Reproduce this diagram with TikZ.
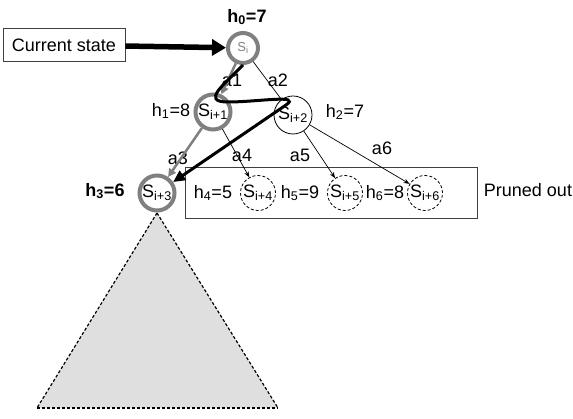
\documentclass[tikz,border=0pt]{standalone}
\usepackage{fontspec}
\setmainfont{Liberation Sans}
\usetikzlibrary{arrows.meta,positioning,backgrounds}

\begin{document}
\begin{tikzpicture}[x=1pt,y=-1pt,font=\fontsize{18}{21}\selectfont,
    kept/.style={circle,draw=gray,line width=4pt,minimum size=35pt,inner sep=0pt},
    thinstate/.style={circle,draw,line width=0.8pt,minimum size=38pt,inner sep=0pt},
    prunestate/.style={circle,draw,line width=0.8pt,dash pattern=on 3pt off 2pt,minimum size=35pt,inner sep=0pt},
    hbold/.style={font=\fontsize{18}{21}\selectfont\bfseries},
    greyarrow/.style={draw=gray,line width=2.5pt,-{Triangle[length=8pt,width=8pt]}},
    thinarrow/.style={draw,line width=0.7pt,-{Stealth[length=6pt,width=4.5pt]}},
    subtree/.style={line width=1.2pt,dash pattern=on 3pt off 2pt}]
        \useasboundingbox (0,0) rectangle (573,419);

        % Subtree below
        \coordinate (apex) at (157,213);
        \coordinate (baseL) at (37,408);
        \coordinate (baseR) at (278,408);
        \fill[gray!25] (apex) -- (baseL) -- (baseR) -- cycle;
        \draw[subtree] (apex) -- (baseL);
        \draw[subtree] (apex) -- (baseR);
        \draw[subtree] (baseL) -- (baseR);

        % Current state
        \node[draw=black!75,line width=0.8pt,minimum width=122,minimum height=33] (cur) at (64,45) {Current state};

        % States kept
        \node[kept,minimum size=30pt,text=gray,font=\fontsize{13}{15}\selectfont] (si) at (243,48) {S\textsubscript{i}};
        \node[kept] (si1) at (213,112) {S\textsubscript{i+1}};
        \node[thinstate] (si2) at (293,115) {S\textsubscript{i+2}};
        \node[kept,fill=white] (si3) at (157,193) {S\textsubscript{i+3}};

        % Pruned states
        \node[draw=black!75,line width=0.8pt,minimum width=292,minimum height=51] (prunebox) at (331,192.5) {};
        \node[prunestate] (si4) at (258,193) {S\textsubscript{i+4}};
        \node[prunestate] (si5) at (345,193) {S\textsubscript{i+5}};
        \node[prunestate] (si6) at (425,193) {S\textsubscript{i+6}};
        \node (pruned) at (528,190) {Pruned out};

        % Heuristic values
        \node[hbold] (h0) at (247,17) {h\textsubscript{0}=7};
        \node (h1) at (171,111) {h\textsubscript{1}=8};
        \node (h2) at (345,112) {h\textsubscript{2}=7};
        \node[hbold] (h3) at (105,191) {h\textsubscript{3}=6};
        \node (h4) at (213,193) {h\textsubscript{4}=5};
        \node (h5) at (300,193) {h\textsubscript{5}=9};
        \node (h6) at (385,193) {h\textsubscript{6}=8};

        % Actions
        \node (a1) at (232,80) {a1};
        \node (a2) at (278,80) {a2};
        \node (a3) at (178,158) {a3};
        \node (a4) at (242,155) {a4};
        \node (a5) at (300,155) {a5};
        \node (a6) at (382,148) {a6};

        % Arrows
        \draw[line width=5.5pt,-{Triangle[length=14pt,width=16pt]}] (cur) -- (si);
        \draw[greyarrow] (si) -- (si1);
        \draw[line width=0.7pt] (si) -- (si2);
        \draw[greyarrow] (si1) -- (si3);
        \draw[thinarrow] (si1) -- (si4);
        \foreach \j in {5,6} {
            \draw[thinarrow] (si2) -- (si\j);
        }

        % Search trace
        \draw[line width=3pt,-{Triangle[length=12pt,width=11pt]}] (si.south)
            .. controls (225,84) and (200,102) .. (228,102)
            .. controls (258,102) and (302,94) .. (286,105) -- (si3);
    \end{tikzpicture}
\end{document}
